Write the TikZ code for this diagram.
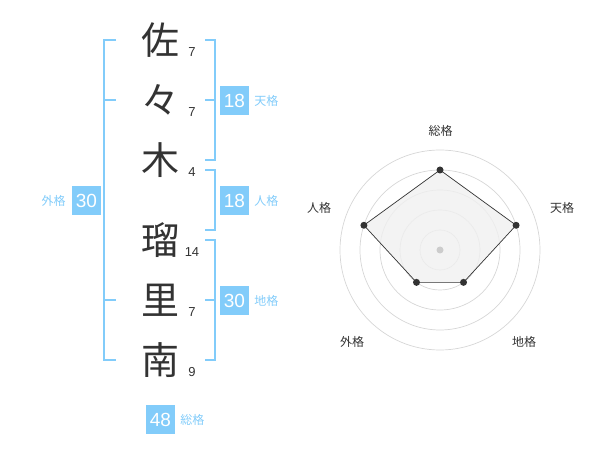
\documentclass[tikz,border=0pt]{standalone}
\usepackage{fontspec}
\usetikzlibrary{positioning}
\setmainfont{Liberation Sans}
\newfontfamily\jp{Noto Sans CJK JP}
\definecolor{kakublue}{RGB}{130,204,250}
\definecolor{inkgrey}{RGB}{51,51,51}
\tikzset{
  moji/.style={font=\jp\fontsize{38}{38}\selectfont, text=inkgrey, inner sep=0pt},
  kaku/.style={font=\fontsize{13}{13}\selectfont, text=inkgrey, inner sep=0pt},
  numbox/.style={fill=kakublue, text=white, minimum size=29pt, inner sep=0pt, font=\fontsize{19}{19}\selectfont},
  kakulabel/.style={font=\jp\fontsize{12}{12}\selectfont, text=kakublue, inner sep=0pt},
  bracket/.style={draw=kakublue, line width=1.6pt},
  ring/.style={draw=black!16, line width=0.7pt},
  axislabel/.style={font=\jp\fontsize{12}{12}\selectfont, text=inkgrey, inner sep=0pt},
  dot/.style={fill=inkgrey},
}
\begin{document}
\begin{tikzpicture}[x=1pt,y=-1pt]
\useasboundingbox (0,0) rectangle (600,470);
% name
\node[moji] (sa) at (160,40) {佐};
\node[moji] (noma) at (160,100) {々};
\node[moji] (ki) at (160,160) {木};
\node[moji] (ru) at (160,240) {瑠};
\node[moji] (ri) at (160,300) {里};
\node[moji] (mi) at (160,360) {南};
% strokes
\node[kaku] (ksa) at (192,52) {7};
\node[kaku] (knoma) at (192,112) {7};
\node[kaku] (kki) at (192,172) {4};
\node[kaku] (kru) at (192,252) {14};
\node[kaku] (kri) at (192,312) {7};
\node[kaku] (kmi) at (192,372) {9};
%
\draw[bracket] (116,40) -| (104,360) -- (116,360);
\draw[bracket] (104,100) -- (116,100);
\draw[bracket] (104,300) -- (116,300);
\draw[bracket] (205,40) -| (215,160) -- (205,160);
\draw[bracket] (205,100) -- (215,100);
\draw[bracket] (205,170) -| (215,230) -- (205,230);
\draw[bracket] (205,240) -| (215,360) -- (205,360);
\draw[bracket] (205,300) -- (215,300);
%
\node[numbox] (ten) at (234.5,100.5) {18};
\node[kakulabel, right=5pt of ten] (tenl) {天格};
\node[numbox] (jin) at (234.5,200.5) {18};
\node[kakulabel, right=5pt of jin] (jinl) {人格};
\node[numbox] (chi) at (234.5,300.5) {30};
\node[kakulabel, right=5pt of chi] (chil) {地格};
\node[numbox] (gai) at (86.5,200.5) {30};
\node[kakulabel, left=6pt of gai] (gail) {外格};
\node[numbox] (sou) at (160.5,419.5) {48};
\node[kakulabel, right=5pt of sou] (soul) {総格};
% chart
\begin{scope}[shift={(440,250)}]
  \foreach \r in {20,40,60,80,100}
    \draw[ring] (0,0) circle[radius=\r pt];
  \coordinate (psou) at (-90:80);
  \coordinate (pten) at (-18:80);
  \coordinate (pchi) at (54:40);
  \coordinate (pgai) at (126:40);
  \coordinate (pjin) at (198:80);
  \filldraw[fill=black!6, fill opacity=.8, draw=inkgrey, line width=.7pt]
    (psou) -- (pten) -- (pchi) -- (pgai) -- (pjin) -- cycle;
  \foreach \p in {psou,pten,pchi,pgai,pjin}
    \fill[dot] (\p) circle[radius=3.5pt];
  \fill[black!20] (0,0) circle[radius=3.5pt];
  \node[axislabel] (asou) at (0.7,-119.3) {総格};
  \node[axislabel] (aten) at (122,-42) {天格};
  \node[axislabel] (achi) at (84,91.7) {地格};
  \node[axislabel] (agai) at (-88,91.7) {外格};
  \node[axislabel] (ajin) at (-121,-42) {人格};
\end{scope}
\end{tikzpicture}
\end{document}
